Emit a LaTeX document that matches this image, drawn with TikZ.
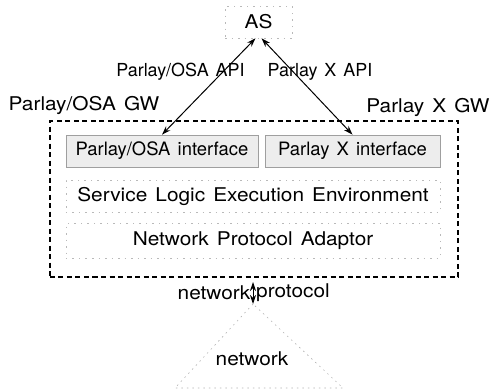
\documentclass[tikz,border=0pt]{standalone}
\usepackage{fontspec}
\setmainfont{TeX Gyre Heros}[FakeStretch=1.1,WordSpace=1.4]
\newfontfamily\narrowfont{TeX Gyre Heros}[WordSpace=1.4]
\usetikzlibrary{arrows.meta}
\newcommand*{\midx }{253}
\newcommand*{\rowh }{32bp}
\newcommand*{\fullw}{374bp}
\tikzset{
  dotbox/.style = {draw=gray!55, dash pattern=on 1.5bp off 5bp, line width=0.6bp, inner sep=1bp},
  ifbox/.style  = {draw=gray!75, fill=gray!14, line width=0.7bp, inner sep=1bp, minimum height=\rowh,
                   font=\narrowfont\fontsize{18.5}{21}\selectfont},
  gwbox/.style  = {draw, dash pattern=on 5bp off 3.5bp, line width=1.3bp},
  api/.style    = {{Stealth[length=9bp,width=6bp]}-{Stealth[length=9bp,width=6bp]}, line width=1bp},
  apilbl/.style = {inner sep=1bp, font=\narrowfont\fontsize{18}{21}\selectfont},
  dotline/.style= {gray!60, dash pattern=on 1.5bp off 4bp, line width=0.6bp}
}

\begin{document}
\begin{tikzpicture}[x=1bp, y=-1bp, font=\fontsize{19}{22}\selectfont]
    \useasboundingbox (0,0) rectangle (490,390);
    % gateway frame
    \node [gwbox, minimum width=408bp, minimum height=156bp] (gw) at (254,199) {};
    \node [inner sep=1bp] (osagw) at (84,105) {Parlay/OSA GW};
    \node [inner sep=1bp] (xgw)   at (428,107) {Parlay X GW};
    % application server
    \node [dotbox, minimum width=67bp, minimum height=\rowh] (as) at (258.5,22) {AS};
    % gateway layers
    \node [ifbox, minimum width=192bp] (osaif) at (162,151)   {Parlay/OSA interface};
    \node [ifbox, minimum width=175bp] (xif)   at (352.5,151) {Parlay X interface};
    \node [dotbox, minimum width=\fullw, minimum height=\rowh] (slee) at (\midx,196)   {Service Logic Execution Environment};
    \node [dotbox, minimum width=\fullw, minimum height=35bp]  (npa)  at (\midx,240.5) {Network Protocol Adaptor};
    % APIs
    \draw [api] ([xshift=-3bp]as.south) -- (osaif.north);
    \draw [api] ([xshift= 3bp]as.south) -- (xif.north);
    \node [apilbl] (osaapi) at (180.5,72) {Parlay/OSA API};
    \node [apilbl] (xapi)   at (320,72)   {Parlay X API};
    % network side
    \coordinate (nptop) at (\midx,282);
    \coordinate (apex)  at (\midx,304);
    \coordinate (netl)  at (175,388);
    \coordinate (netr)  at (343,388);
    \node [anchor=east, inner sep=0pt] (netlbl)  at (250.5,293) {network};
    \node [anchor=west, inner sep=0pt] (protlbl) at (256,293)   {protocol};
    \draw [api, line width=0.9bp] (nptop) -- (apex);
    \draw [dotline] (apex) -- (netl) -- (netr) -- cycle;
    \node (net) at (252,359) {network};
\end{tikzpicture}
\end{document}
